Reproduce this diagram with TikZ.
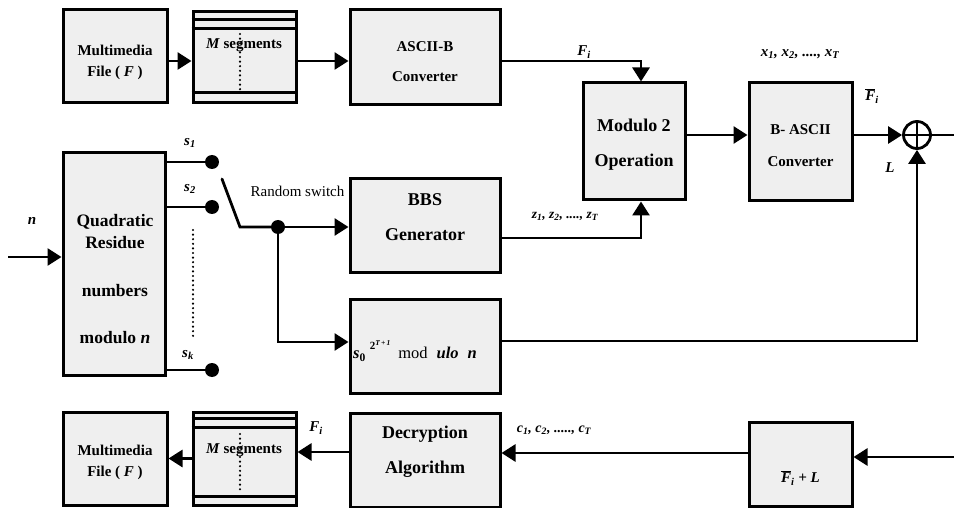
\documentclass[tikz,border=0pt]{standalone}
\usepackage{fontspec}
\setmainfont{Liberation Serif}
\usetikzlibrary{arrows.meta,calc}
\definecolor{boxfill}{HTML}{EFEFEF}
\newcommand{\Fbar}{$\overline{\mbox{F}}$}
\tikzset{
  blk/.style={draw=black, line width=3pt, fill=boxfill, inner sep=0pt},
  txt/.style={align=center, inner sep=0pt, font=\bfseries\fontsize{15}{21}\selectfont},
  bigtxt/.style={align=center, inner sep=0pt, font=\bfseries\fontsize{18}{35}\selectfont},
  lab/.style={inner sep=0pt, font=\bfseries\itshape\fontsize{15}{18}\selectfont},
  smalllab/.style={inner sep=0pt, font=\bfseries\itshape\fontsize{13.5}{16}\selectfont},
  wire/.style={line width=2.8pt},
  arr/.style={line width=2.8pt, -{Triangle[length=14pt,width=17pt]}},
  inner line/.style={line width=2.6pt},
  dotline/.style={line width=2.4pt, line cap=round, dash pattern=on 0pt off 4.6pt},
  swdot/.style={circle, fill=black, minimum size=14pt, inner sep=0pt},
}
\begin{document}
\begin{tikzpicture}[x=1pt,y=-1pt]
\useasboundingbox (0,0) rectangle (954,508);

% ---- blocks ----
\node[blk, minimum width=104pt, minimum height=93pt]  (mf1)  at (115,56.5)  {};
\node[blk, minimum width=103pt, minimum height=91pt]  (ms1)  at (244.5,57.5) {};
\node[blk, minimum width=150pt, minimum height=95pt]  (asc)  at (425,57.5)  {};
\node[blk, minimum width=102pt, minimum height=117pt] (mod2) at (634,141.5) {};
\node[blk, minimum width=103pt, minimum height=118pt] (basc) at (800.5,142) {};
\node[blk, minimum width=102pt, minimum height=222pt] (qr)   at (114,264)   {};
\node[blk, minimum width=150pt, minimum height=93pt]  (bbs)  at (425,225.5) {};
\node[blk, minimum width=150pt, minimum height=94pt]  (modn) at (425,346)   {};
\node[blk, minimum width=104pt, minimum height=93pt]  (mf2)  at (115,458.5) {};
\node[blk, minimum width=103pt, minimum height=93pt]  (ms2)  at (244.5,458.5) {};
\node[blk, minimum width=150pt, minimum height=94pt]  (dec)  at (425,460)   {};
\node[blk, minimum width=103pt, minimum height=84pt]  (fl)   at (800.5,464) {};

% segment boxes: stripes and dotted divider
\draw[inner line] ($(ms1.north west)+(0,9)$) -- ($(ms1.north east)+(0,9)$);
\draw[inner line] ($(ms1.north west)+(0,18)$) -- ($(ms1.north east)+(0,18)$);
\draw[inner line] ($(ms1.south west)+(0,-12)$) -- ($(ms1.south east)+(0,-12)$);
\draw[dotline] (240,34) -- (240,90);
\draw[inner line] ($(ms2.north west)+(0,8)$) -- ($(ms2.north east)+(0,8)$);
\draw[inner line] ($(ms2.north west)+(0,17)$) -- ($(ms2.north east)+(0,17)$);
\draw[inner line] ($(ms2.south west)+(0,-10)$) -- ($(ms2.south east)+(0,-10)$);
\draw[dotline] (240,434) -- (240,490);

% ---- block texts ----
\node[txt] (tmf1) at (115,62) {Multimedia\\File ( \textit{F} )};
\node[txt] (tms1) at (244,45) {\textit{M} segments};
\node[txt, font=\bfseries\fontsize{15}{30}\selectfont] (tasc) at (425,62) {ASCII-B\\Converter};
\node[bigtxt] (tmod2) at (634,145) {Modulo 2\\Operation};
\node[txt, font=\bfseries\fontsize{15}{32}\selectfont] (tbasc) at (800.5,146) {B- ASCII\\Converter};
\node[txt, font=\bfseries\fontsize{17.5}{22}\selectfont] (tqr) at (115,279)
  {Quadratic\\Residue\\[26pt]numbers\\[25pt]modulo \textit{n}};
\node[bigtxt] (tbbs) at (425,217) {BBS\\Generator};
\node[inner sep=0pt, font=\fontsize{16.5}{18}\selectfont] (tmodn) at (415,351)
  {\textbf{\textit{s}}\textsubscript{\textbf{0}}\hspace{4pt}\raisebox{9pt}{\fontsize{11}{11}\selectfont\bfseries 2\raisebox{4.5pt}{\fontsize{7.5}{7.5}\selectfont\itshape T\,+\,1}}\hspace{8pt}mod\hspace{9pt}\textbf{\textit{ulo}}\hspace{9pt}\textbf{\textit{n}}};
\node[txt] (tmf2) at (115,462) {Multimedia\\File ( \textit{F} )};
\node[txt] (tms2) at (244,450) {\textit{M} segments};
\node[bigtxt] (tdec) at (425,452) {Decryption\\Algorithm};
\node[lab] (tfl) at (800.5,478) {\Fbar\textsubscript{i} + L};

% ---- adder ----
\node[draw, circle, line width=2.8pt, fill=white, minimum size=27pt, inner sep=0pt] (op) at (917,135) {};
\draw[wire] (op.north) -- (op.south) (op.west) -- (op.east);

% ---- switch ----
\node[swdot] (d1) at (212,162) {};
\node[swdot] (d2) at (212,207) {};
\node[swdot] (dk) at (212,370) {};
\node[swdot] (j)  at (278,227) {};
\coordinate (sa) at (222,179);
\coordinate (sb) at (240,227);
\draw[dotline] (193,230) -- (193,340);

% ---- free ends ----
\coordinate (nin) at (8,257);
\coordinate (out) at (954,135);
\coordinate (inb) at (954,457);

% ---- connectors ----
\draw[arr] ([yshift=-4.5pt]mf1.east) -- ([yshift=-4.5pt]mf1.east -| ms1.west);
\draw[arr] ([yshift=-3.5pt]ms1.east) -- ([yshift=-3.5pt]ms1.east -| asc.west);
\draw[arr] ([yshift=-3.5pt]asc.east) -| ([xshift=7pt]mod2.north);
\draw[arr] ([yshift=6.5pt]mod2.east) -- ([yshift=6.5pt]mod2.east -| basc.west);
\draw[arr] (basc.east |- op.west) -- (op.west);
\draw[wire] (op.east) -- (out);
\draw[arr] ([yshift=5pt]modn.east) -| (op.south);
\draw[arr] (nin) -- (nin -| qr.west);
\draw[wire] (d1 -| qr.east) -- (d1);
\draw[wire] (d2 -| qr.east) -- (d2);
\draw[wire] (dk -| qr.east) -- (dk);
\draw[wire, line cap=round] (sa) -- (sb) -- (j.center);
\draw[arr] (j) -- (j -| bbs.west);
\draw[arr] (j) |- ([yshift=4pt]modn.west);
\draw[arr] ([yshift=-12.5pt]bbs.east) -| ([xshift=7pt]mod2.south);
\draw[arr] ([yshift=8pt]dec.west) -- ([yshift=8pt]dec.west -| ms2.east);
\draw[arr] (ms2.west) -- (ms2.west -| mf2.east);
\draw[arr] ([yshift=11pt]fl.west) -- ([yshift=11pt]fl.west -| dec.east);
\draw[arr] (inb) -- (inb -| fl.east);

% ---- labels ----
\node[lab] (lfi)  at (584,52)  {F\textsubscript{i}};
\node[lab] (lx)   at (800,54)  {x\textsubscript{1}, x\textsubscript{2}, ...., x\textsubscript{T}};
\node[lab] (lfb)  at (872,96)  {\Fbar\textsubscript{i}};
\node[lab] (ll)   at (890,168) {L};
\node[lab] (ln)   at (32,221)  {n};
\node[lab] (ls1)  at (190,143) {s\textsubscript{1}};
\node[lab] (ls2)  at (190,189) {s\textsubscript{2}};
\node[lab] (lsk)  at (188,355) {s\textsubscript{k}};
\node[inner sep=0pt, font=\fontsize{15}{18}\selectfont] (lrs) at (297.5,191) {Random switch};
\node[smalllab] (lz) at (565,216) {z\textsubscript{1}, z\textsubscript{2}, ...., z\textsubscript{T}};
\node[lab] (lfi2) at (316,428) {F\textsubscript{i}};
\node[smalllab, font=\bfseries\itshape\fontsize{14}{16}\selectfont] (lc) at (554,430) {c\textsubscript{1}, c\textsubscript{2}, ....., c\textsubscript{T}};
\end{tikzpicture}
\end{document}
